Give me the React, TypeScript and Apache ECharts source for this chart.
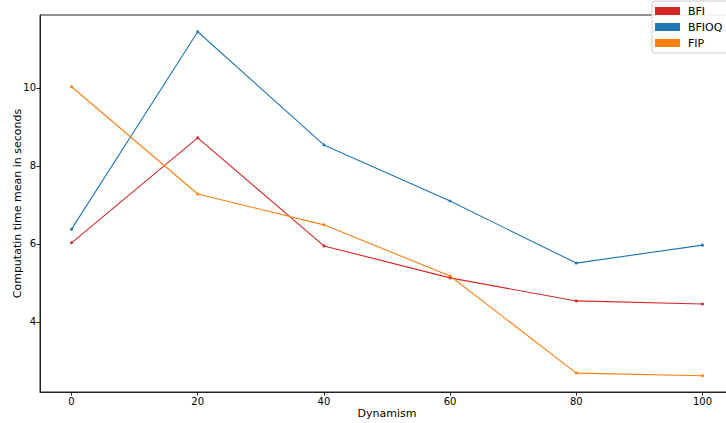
import React, { useEffect, useRef } from "react";
import * as echarts from "echarts";

const xValues = [0, 20, 40, 60, 80, 100];
const bfi = [6.03, 8.72, 5.95, 5.13, 4.54, 4.46];
const bfioq = [6.38, 11.44, 8.54, 7.1, 5.51, 5.97];
const fip = [10.03, 7.28, 6.49, 5.18, 2.69, 2.62];
const xTicks = [0, 20, 40, 60, 80, 100];
const yTicks = [4, 6, 8, 10];
const seriesNames = ["BFI", "BFIOQ", "FIP"];
const seriesColors = ["#d62728", "#1f77b4", "#ff7f0e"];

export default function App() {
  const ref = useRef<HTMLDivElement>(null);
  useEffect(() => {
    if (!ref.current) return;
    const chart = echarts.init(ref.current, null, { renderer: "svg" });
    const font = "DejaVu Sans";
    const all = [bfi, bfioq, fip];
    chart.setOption({
      animation: false,
      textStyle: { fontFamily: font },
      grid: {
        left: 40,
        top: 15,
        right: -8,
        bottom: 31,
        containLabel: false,
        outerBoundsMode: "none",
        show: true,
        borderColor: "#222",
        borderWidth: 1,
        backgroundColor: "transparent",
      },
      legend: {
        orient: "vertical",
        left: 652,
        top: 1,
        padding: [4, 8, 4, 3],
        itemGap: 4,
        itemWidth: 25,
        itemHeight: 8,
        icon: "rect",
        backgroundColor: "rgba(255,255,255,0.9)",
        borderColor: "#cccccc",
        borderWidth: 1,
        borderRadius: 3,
        textStyle: {
          fontFamily: font,
          fontSize: 11,
          color: "#000",
          lineHeight: 12,
          padding: [0, 0, 0, 3],
        },
        data: seriesNames,
      },
      xAxis: {
        type: "value",
        min: -5,
        max: 105,
        name: "Dynamism",
        nameLocation: "middle",
        nameGap: 16,
        nameMoveOverlap: false,
        nameTextStyle: { fontFamily: font, fontSize: 11, color: "#000", verticalAlign: "top" },
        splitLine: { show: false },
        axisLine: { show: true, onZero: false, lineStyle: { color: "#222", width: 1 } },
        axisTick: {
          show: true,
          length: 3.5,
          lineStyle: { color: "#222" },
          customValues: xTicks,
        },
        axisLabel: {
          fontFamily: font,
          fontSize: 10,
          color: "#000",
          margin: 4,
          customValues: xTicks,
        },
      },
      yAxis: {
        type: "value",
        min: 2.205,
        max: 11.87,
        name: "Computatin time mean in seconds",
        nameLocation: "middle",
        nameGap: 17,
        nameMoveOverlap: false,
        nameTextStyle: { fontFamily: font, fontSize: 11, color: "#000", verticalAlign: "bottom" },
        splitLine: { show: false },
        axisLine: { show: true, onZero: false, lineStyle: { color: "#222", width: 1 } },
        axisTick: {
          show: true,
          length: 3.5,
          lineStyle: { color: "#222" },
          customValues: yTicks,
        },
        axisLabel: {
          fontFamily: font,
          fontSize: 10,
          color: "#000",
          margin: 4,
          customValues: yTicks,
        },
      },
      series: seriesNames.map((name, i) => ({
        name,
        type: "line",
        data: xValues.map((x, j) => [x, all[i][j]]),
        color: seriesColors[i],
        symbol: "circle",
        symbolSize: 3,
        showSymbol: true,
        lineStyle: { width: 1.1, color: seriesColors[i] },
        itemStyle: { color: seriesColors[i] },
      })),
    });
    return () => chart.dispose();
  }, []);
  return (
    <div
      ref={ref}
      style={{ position: "absolute", left: 0, top: 0, width: 726, height: 423 }}
    />
  );
}
